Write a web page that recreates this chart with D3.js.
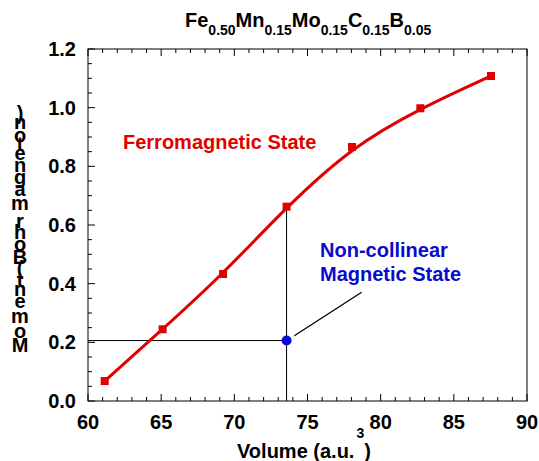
<!DOCTYPE html>
<html>
<head>
<meta charset="utf-8">
<script src="https://cdn.jsdelivr.net/npm/d3@7"></script>
<style>
  body { margin: 0; background: #fff; }
  svg { display: block; font-family: Arial, "Liberation Sans", sans-serif; font-weight: bold; }
</style>
</head>
<body>
<div id="chart"></div>
<script>
// ferromagnetic state points
const volume = [61.14, 65.10, 69.23, 73.57, 78.04, 82.71, 87.54];
const moment = [0.068, 0.2445, 0.433, 0.6625, 0.866, 0.998, 1.108];
// non-collinear point
const ncVolume = [73.57];
const ncMoment = [0.206];
const xTicks = [60, 65, 70, 75, 80, 85, 90];
const yTicks = [0.0, 0.2, 0.4, 0.6, 0.8, 1.0, 1.2];
const titleParts = [["Fe", "0.50"], ["Mn", "0.15"], ["Mo", "0.15"], ["C", "0.15"], ["B", "0.05"]];
const yLabel = "Moment (Bohr magneton)";

const width = 539, height = 461;
const margin = { top: 49, right: 12, bottom: 60, left: 88 };
const red = "#e00000", blue = "#0a0acc";

const svg = d3.select("#chart").append("svg")
    .attr("width", width)
    .attr("height", height);

const x = d3.scaleLinear().domain([60, 90]).range([margin.left, width - margin.right]);
const y = d3.scaleLinear().domain([0, 1.2]).range([height - margin.bottom, margin.top]);

const x0 = x.range()[0], x1 = x.range()[1];
const y0 = y.range()[0], y1 = y.range()[1];

// frame
svg.append("rect")
    .attr("x", x0).attr("y", y1)
    .attr("width", x1 - x0).attr("height", y0 - y1)
    .attr("fill", "none").attr("stroke", "#000").attr("stroke-width", 1);

// inward ticks: bottom, top, left
const minorX = d3.range(60, 90.01, 1);
const minorY = d3.range(0, 1.201, 0.05);
const isMajorX = v => Math.abs(v / 5 - Math.round(v / 5)) < 1e-6;
const isMajorY = v => Math.abs(v / 0.2 - Math.round(v / 0.2)) < 1e-6;

const ticks = svg.append("g").attr("stroke", "#000").attr("stroke-width", 1);
minorX.forEach(v => {
    const len = isMajorX(v) ? 7 : 4;
    ticks.append("line").attr("x1", x(v)).attr("x2", x(v)).attr("y1", y0).attr("y2", y0 - len);
    ticks.append("line").attr("x1", x(v)).attr("x2", x(v)).attr("y1", y1).attr("y2", y1 + len);
});
minorY.forEach(v => {
    const len = isMajorY(v) ? 7 : 4;
    ticks.append("line").attr("x1", x0).attr("x2", x0 + len).attr("y1", y(v)).attr("y2", y(v));
});

// tick labels
svg.append("g").selectAll("text")
    .data(xTicks).enter().append("text")
    .attr("x", d => x(d))
    .attr("y", 429)
    .attr("text-anchor", "middle")
    .style("font-size", "20px")
    .text(d => d);

svg.append("g").selectAll("text")
    .data(yTicks).enter().append("text")
    .attr("x", 76)
    .attr("y", d => y(d))
    .attr("dy", "0.35em")
    .attr("text-anchor", "end")
    .style("font-size", "20px")
    .text(d => d.toFixed(1));

// x axis title
const xt = svg.append("text")
    .attr("x", 237).attr("y", 458)
    .style("font-size", "20px");
xt.append("tspan").text("Volume (a.u.");
xt.append("tspan").attr("dy", -20).attr("dx", 2).style("font-size", "14px").text("3");
xt.append("tspan").attr("dy", 20).text(")");

// y axis title: upright glyphs stacked bottom to top
const chars = yLabel.split("");
const probe = svg.append("text").style("font-size", "20px");
const adv = chars.map(c => {
    probe.text(c === " " ? "\u00a0" : c);
    return probe.node().getComputedTextLength();
});
probe.remove();
const centers = [];
let acc = 0;
adv.forEach(a => { centers.push(acc + a / 2); acc += a; });
const yPos = d3.scaleLinear()
    .domain([centers[0], centers[centers.length - 1]])
    .range([345, 113]);
svg.append("g").selectAll("text")
    .data(chars).enter().append("text")
    .attr("x", 20)
    .attr("y", (d, i) => yPos(centers[i]))
    .attr("dominant-baseline", "central")
    .attr("text-anchor", "middle")
    .style("font-size", "20px")
    .text(d => d);

// title with subscripts
const title = svg.append("text")
    .attr("x", 185).attr("y", 27)
    .style("font-size", "20px");
titleParts.forEach(([el, sub], i) => {
    title.append("tspan").attr("dy", i === 0 ? 0 : -8).text(el);
    title.append("tspan").attr("dy", 8).style("font-size", "14px").text(sub);
});

// guide lines to the non-collinear point
svg.append("line")
    .attr("x1", x(ncVolume[0])).attr("x2", x(ncVolume[0]))
    .attr("y1", y0).attr("y2", y(moment[3]))
    .attr("stroke", "#000").attr("stroke-width", 1);
svg.append("line")
    .attr("x1", x0).attr("x2", x(ncVolume[0]))
    .attr("y1", y(ncMoment[0])).attr("y2", y(ncMoment[0]))
    .attr("stroke", "#000").attr("stroke-width", 1);
// leader line to the label
svg.append("line")
    .attr("x1", x(74.1)).attr("y1", y(0.2226))
    .attr("x2", x(78.7)).attr("y2", y(0.3706))
    .attr("stroke", "#000").attr("stroke-width", 1.3);

// smooth fit through the points
const pts = volume.map((v, i) => [v, moment[i]]);
const line = d3.line()
    .x(d => x(d[0]))
    .y(d => y(d[1]))
    .curve(d3.curveBasis);
svg.append("path")
    .attr("d", line(pts))
    .attr("fill", "none")
    .attr("stroke", red)
    .attr("stroke-width", 3);

// square markers
const s = 8;
svg.append("g").selectAll("rect")
    .data(pts).enter().append("rect")
    .attr("x", d => x(d[0]) - s / 2)
    .attr("y", d => y(d[1]) - s / 2)
    .attr("width", s).attr("height", s)
    .attr("fill", red);

// non-collinear point
svg.append("circle")
    .attr("cx", x(ncVolume[0]))
    .attr("cy", y(ncMoment[0]))
    .attr("r", 5)
    .attr("fill", blue);

// annotations
svg.append("text")
    .attr("x", 123).attr("y", 149)
    .style("font-size", "20px")
    .attr("fill", red)
    .text("Ferromagnetic State");

svg.append("text")
    .attr("x", 320).attr("y", 257)
    .style("font-size", "20px")
    .attr("fill", blue)
    .text("Non-collinear");
svg.append("text")
    .attr("x", 320).attr("y", 281)
    .style("font-size", "20px")
    .attr("fill", blue)
    .text("Magnetic State");
</script>
</body>
</html>
